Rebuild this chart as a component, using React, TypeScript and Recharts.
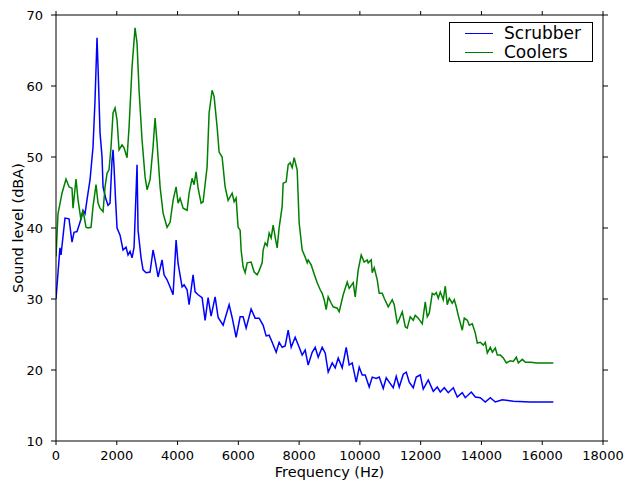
import React from "react";
import { LineChart, Line, XAxis, YAxis, Label, Legend } from "recharts";

// [frequency (Hz), sound level (dBA)]
const scrubber: [number, number][] = [
  [0, 30], [130, 37.2], [165, 36.2], [296, 41.4], [428, 41.3], [527, 38], [593, 39.4],
  [692, 39.5], [790, 40.8], [889, 42.5], [955, 42], [1021, 44], [1120, 46.8], [1218, 51.4],
  [1284, 58], [1350, 66.8], [1383, 62.7], [1449, 53.4], [1515, 50], [1548, 45.8], [1647, 44],
  [1712, 43.2], [1778, 43.5], [1844, 49.6], [1877, 51], [1910, 48.6], [1960, 44], [2009, 40],
  [2108, 39], [2206, 36.9], [2305, 37.3], [2371, 36.2], [2437, 36.7], [2503, 35.8], [2569, 37.3],
  [2667, 48.9], [2700, 39.7], [2799, 35.8], [2865, 34.1], [2964, 33.7], [3095, 33.8], [3194, 36.9],
  [3260, 35.5], [3359, 33.1], [3491, 35.5], [3556, 33.4], [3655, 32.7], [3754, 31.7], [3853, 30.6],
  [3952, 38.3], [4017, 35], [4149, 31.7], [4215, 32], [4314, 31.3], [4380, 29.2], [4511, 33.4],
  [4577, 31], [4676, 30.6], [4808, 30.2], [4907, 27], [5005, 30.2], [5104, 27.6], [5236, 30.3],
  [5335, 27.4], [5499, 26.3], [5697, 29.2], [5796, 27.4], [5927, 24.6], [6059, 27.5], [6158, 27.5],
  [6257, 25.9], [6421, 28.6], [6553, 27.3], [6685, 27.3], [6817, 26.3], [6915, 24.8], [7014, 24.9],
  [7113, 23.9], [7245, 22.5], [7344, 23.9], [7442, 23.2], [7541, 23.4], [7640, 25.6], [7739, 23.2],
  [7870, 24.6], [8002, 23.2], [8101, 22.1], [8200, 22.8], [8298, 20.7], [8430, 22.5], [8529, 23.2],
  [8628, 21.8], [8759, 23.2], [8858, 22.4], [8957, 19.7], [9089, 21], [9187, 20.3], [9286, 21.7],
  [9418, 20.3], [9550, 23.2], [9648, 20.7], [9747, 21], [9879, 18.3], [9978, 20.4], [10077, 19.3],
  [10175, 19.3], [10307, 17.6], [10406, 19], [10538, 18.8], [10636, 19], [10768, 17.4], [10867, 18.9],
  [10966, 18.3], [11097, 17.5], [11196, 19.1], [11295, 17.6], [11427, 19.4], [11526, 19.7], [11624, 18.3],
  [11756, 17.5], [11855, 19], [11987, 19.3], [12085, 17.3], [12250, 18.6], [12415, 17], [12546, 17.6],
  [12645, 16.9], [12777, 17.5], [12908, 16.8], [13073, 17.5], [13205, 16.2], [13369, 16.8], [13468, 16.1],
  [13666, 16.9], [13798, 16.2], [13962, 16.1], [14127, 15.5], [14292, 16.1], [14456, 15.5], [14687, 15.8],
  [15049, 15.6], [15609, 15.5], [16366, 15.5],
];

const coolers: [number, number][] = [
  [0, 36], [66, 42], [198, 44.9], [329, 46.9], [428, 45.8], [527, 45.6], [560, 42.8], [659, 46.9],
  [724, 44], [823, 41.1], [889, 42.5], [988, 40.1], [1054, 40], [1153, 40.1], [1218, 43], [1317, 46.1],
  [1383, 43.5], [1449, 42.8], [1548, 42.3], [1614, 45.8], [1679, 47.7], [1745, 48.2], [1811, 51.4],
  [1877, 56.2], [1943, 56.9], [2009, 55.2], [2075, 51], [2173, 51.7], [2239, 51.3], [2338, 49.9],
  [2404, 54.2], [2503, 62.7], [2601, 68.2], [2667, 66], [2733, 59.4], [2832, 52.4], [2931, 47.2],
  [2997, 45.4], [3095, 46.8], [3194, 51.4], [3260, 55.5], [3326, 52], [3425, 45.8], [3524, 42.1],
  [3655, 40.1], [3754, 40.8], [3853, 43.9], [3952, 45.8], [4017, 43.5], [4083, 44.2], [4182, 42.8],
  [4314, 42.5], [4380, 44.9], [4478, 47], [4544, 46.1], [4610, 47.9], [4676, 45.6], [4775, 43.5],
  [4841, 43.7], [4972, 48.6], [5038, 56.2], [5137, 59.4], [5203, 58.5], [5302, 54.2], [5368, 50.7],
  [5466, 50], [5565, 45.8], [5664, 43.9], [5796, 44.9], [5862, 43.7], [5927, 44.2], [5993, 40.1],
  [6059, 39.7], [6092, 36.9], [6158, 34.5], [6224, 33.7], [6290, 35.1], [6421, 35.2], [6520, 33.8],
  [6619, 33.4], [6685, 34], [6784, 35.1], [6817, 36.9], [6882, 37.9], [6948, 37.5], [7014, 39.3],
  [7080, 38.6], [7146, 40.4], [7212, 38.7], [7278, 37.2], [7344, 40.1], [7442, 43], [7475, 46.3],
  [7574, 46.5], [7640, 48.9], [7706, 49.2], [7772, 48.5], [7837, 49.9], [7936, 48.2], [8002, 40.7],
  [8101, 36.9], [8200, 35.9], [8265, 35.1], [8298, 35.5], [8397, 34.8], [8529, 33.1], [8595, 32.3],
  [8694, 31.3], [8759, 30.8], [8825, 29.9], [8891, 28.5], [8957, 30.3], [9056, 29.4], [9122, 28.9],
  [9253, 28.7], [9319, 28.2], [9451, 30.6], [9583, 32.4], [9648, 31.5], [9780, 32.3], [9846, 30.3],
  [9945, 34.1], [10044, 36.2], [10142, 35.2], [10241, 35.5], [10274, 35.1], [10373, 35.5], [10406, 33.7],
  [10472, 34.4], [10571, 32.7], [10636, 30.8], [10735, 30.8], [10801, 30.1], [10933, 28.9], [11064, 29.9],
  [11130, 29.2], [11229, 26.6], [11262, 26.8], [11394, 28.2], [11493, 26.1], [11558, 25.9], [11657, 27.5],
  [11756, 27], [11822, 27.7], [11921, 27.3], [12052, 26.5], [12151, 29.6], [12217, 27.5], [12283, 28],
  [12382, 30.8], [12448, 30.6], [12513, 30.9], [12579, 30.1], [12645, 31], [12744, 29.9], [12810, 31.8],
  [12875, 29.2], [12941, 30.1], [13040, 29.4], [13106, 29.9], [13172, 28.9], [13237, 27.7], [13369, 25.6],
  [13435, 27.3], [13534, 27], [13600, 26.3], [13699, 26.5], [13798, 25.2], [13863, 23.8], [13962, 23.9],
  [14061, 23.5], [14127, 23.9], [14193, 22.4], [14292, 23.2], [14358, 22.5], [14456, 23.1], [14522, 22.1],
  [14621, 22.1], [14720, 21.7], [14819, 21], [14950, 21.3], [15049, 21.2], [15148, 21.8], [15214, 21],
  [15345, 21.5], [15444, 21.1], [15609, 21.1], [15839, 21], [16037, 21], [16366, 21],
];

const xTicks = [0, 2000, 4000, 6000, 8000, 10000, 12000, 14000, 16000, 18000];
const yTicks = [10, 20, 30, 40, 50, 60, 70];

// both axis pairs share identical domains, so either pair places a line the same way
const series = [
  { name: "Scrubber", color: "#0000ff", points: scrubber, xId: "b", yId: "l" },
  { name: "Coolers", color: "#008000", points: coolers, xId: "t", yId: "r" },
];

const FONT = "'DejaVu Sans', sans-serif";
const tickStyle = { fontSize: 13, fill: "#000", fontFamily: FONT };
const noLabel = () => <g />;

const LegendBox = () => (
  <div
    style={{
      border: "1px solid #000",
      background: "#fff",
      width: 142,
      height: 37,
      paddingTop: 1,
      fontFamily: FONT,
      fontSize: 17,
      boxSizing: "content-box",
    }}
  >
    {series.map((s) => (
      <div key={s.name} style={{ display: "flex", alignItems: "center", height: 19 }}>
        <svg width={54} height={19} style={{ flex: "none" }}>
          <line x1={15} x2={43} y1={9.5} y2={9.5} stroke={s.color} strokeWidth={1} />
        </svg>
        <span style={{ lineHeight: "19px", color: "#000" }}>{s.name}</span>
      </div>
    ))}
  </div>
);

export default function App() {
  return (
    <div style={{ position: "absolute", left: 0, top: 0, width: 626, height: 483, background: "#fff" }}>
      <LineChart width={626} height={483} margin={{ top: 14, right: 22, bottom: 0, left: 0 }}>
        <XAxis
          xAxisId="b"
          type="number"
          dataKey="freq"
          domain={[0, 18000]}
          ticks={xTicks}
          height={42}
          stroke="#000"
          tickSize={4}
          tickMargin={6}
          tick={tickStyle}
          interval={0}
          allowDataOverflow
        >
          <Label
            value="Frequency (Hz)"
            position="insideBottom"
            offset={6}
            style={{ fontSize: 14.5, fill: "#000", fontFamily: FONT }}
          />
        </XAxis>
        <XAxis
          xAxisId="t"
          orientation="top"
          type="number"
          dataKey="freq"
          domain={[0, 18000]}
          ticks={xTicks}
          height={1}
          stroke="#000"
          tickSize={4}
          tick={noLabel}
          interval={0}
          allowDataOverflow
        />
        <YAxis
          yAxisId="l"
          type="number"
          domain={[10, 70]}
          ticks={yTicks}
          width={56}
          stroke="#000"
          tickSize={5}
          tickMargin={8}
          tick={tickStyle}
          interval={0}
          allowDataOverflow
        >
          <Label
            value="Sound level (dBA)"
            angle={-90}
            position="insideLeft"
            offset={18}
            style={{ fontSize: 14.5, fill: "#000", fontFamily: FONT, textAnchor: "middle" }}
          />
        </YAxis>
        <YAxis
          yAxisId="r"
          orientation="right"
          type="number"
          domain={[10, 70]}
          ticks={yTicks}
          width={1}
          stroke="#000"
          tickSize={5}
          tick={noLabel}
          interval={0}
          allowDataOverflow
        />
        <Legend
          layout="vertical"
          align="center"
          verticalAlign="middle"
          content={() => <LegendBox />}
          wrapperStyle={{ top: 22, left: 449, width: 144 }}
        />
        {series.map((s) => (
          <Line
            key={s.name}
            name={s.name}
            xAxisId={s.xId}
            yAxisId={s.yId}
            data={s.points.map(([freq, level]) => ({ freq, level }))}
            dataKey="level"
            stroke={s.color}
            strokeWidth={1.5}
            dot={false}
            activeDot={false}
            type="linear"
            isAnimationActive={false}
          />
        ))}
      </LineChart>
    </div>
  );
}
